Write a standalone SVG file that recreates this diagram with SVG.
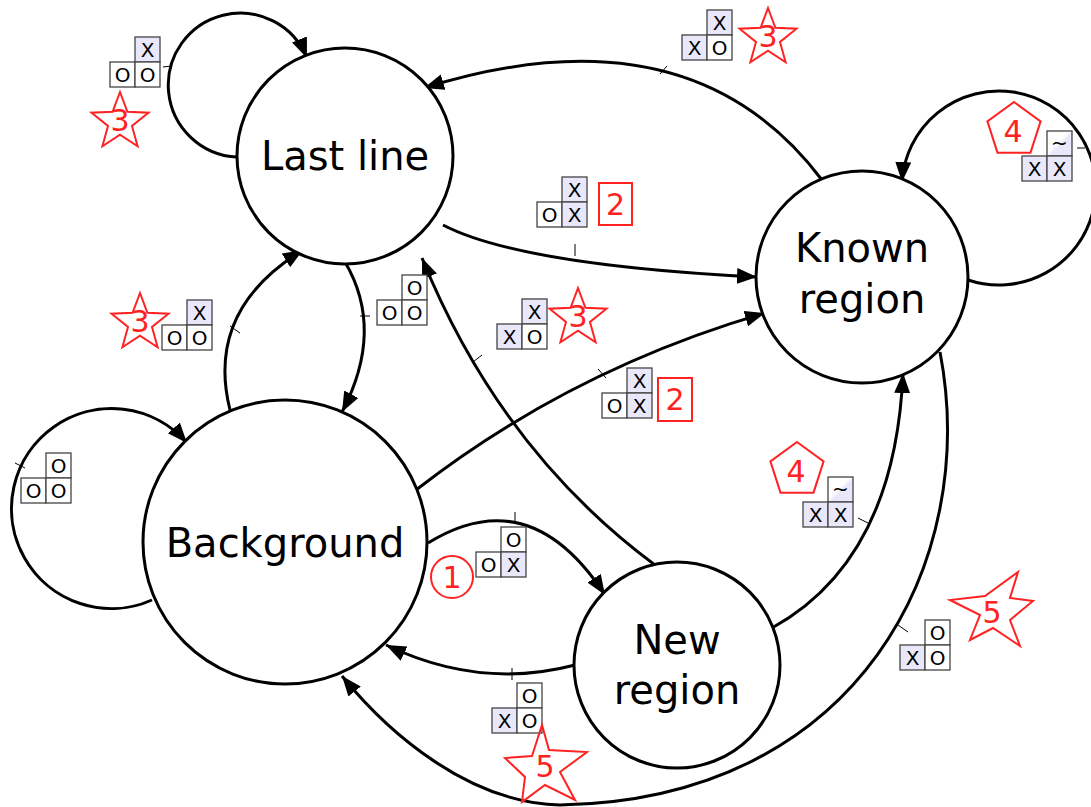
<svg xmlns="http://www.w3.org/2000/svg" xmlns:xlink="http://www.w3.org/1999/xlink" width="1091" height="807" viewBox="0 0 1091 807">
<defs>
<style>
.node{fill:#fff;stroke:#000;stroke-width:3}
.ntxt{font-family:"DejaVu Sans",sans-serif;font-size:40px;text-anchor:middle;fill:#000}
.edge{fill:none;stroke:#000;stroke-width:3}
.tick{stroke:#000;stroke-width:1;fill:none}
.cx{fill:#e8e8fa;stroke:#444;stroke-width:1.3}
.co{fill:#fff;stroke:#444;stroke-width:1.3}
.ct{fill:url(#tg);stroke:#444;stroke-width:1.3}
.ctxt{font-family:"DejaVu Sans",sans-serif;font-size:20px;text-anchor:middle;fill:#000}
.red{fill:none;stroke:#f22;stroke-width:2}
.rtxt{font-family:"DejaVu Sans",sans-serif;font-size:30px;text-anchor:middle;fill:#f22}
</style>
<linearGradient id="tg" x1="0" y1="0" x2="1" y2="1">
<stop offset="0" stop-color="#fff"/><stop offset="0.45" stop-color="#fff"/><stop offset="0.55" stop-color="#e8e8fa"/><stop offset="1" stop-color="#e8e8fa"/>
</linearGradient>
<marker id="arr" markerWidth="22" markerHeight="18" refX="20" refY="8" orient="auto" markerUnits="userSpaceOnUse"><path d="M0,0 L20,8 L0,16 z" fill="#000"/></marker>
<path id="star" d="M0,-30 L7.4,-10.2 L28.5,-9.3 L12,3.9 L17.6,24.3 L0,12.6 L-17.6,24.3 L-12,3.9 L-28.5,-9.3 L-7.4,-10.2 Z"/>
<path id="pent" d="M0,-28 L26.6,-8.65 L16.5,22.65 L-16.5,22.65 L-26.6,-8.65 Z"/>
</defs>

<g id="connectors">
<path class="edge" marker-end="url(#arr)" d="M237,157 A72 72 0 1 1 307,58"/>
<path class="edge" marker-end="url(#arr)" d="M968,280 A97 97 0 1 0 902,182"/>
<path class="edge" marker-end="url(#arr)" d="M152,600 A100 100 0 1 1 187,443"/>
<path class="edge" marker-end="url(#arr)" d="M822,180 Q690,5 424,88"/>
<path class="edge" marker-end="url(#arr)" d="M443,225 Q520,265 757,277"/>
<path class="edge" marker-end="url(#arr)" d="M345,262 Q385,330 342,412"/>
<path class="edge" marker-end="url(#arr)" d="M230,410 Q205,310 303,250"/>
<path class="edge" marker-end="url(#arr)" d="M416,490 Q570,370 765,313"/>
<path class="edge" marker-end="url(#arr)" d="M655,565 Q500,450 422,258"/>
<path class="edge" marker-end="url(#arr)" d="M428,543 Q530,480 605,595"/>
<path class="edge" marker-end="url(#arr)" d="M575,665 Q480,690 386,645"/>
<path class="edge" marker-end="url(#arr)" d="M772,628 Q895,560 903,373"/>
<path class="edge" marker-end="url(#arr)" d="M940,352 C980,560 860,800 560,805 C470,803 390,735 342,676"/>
<g class="tick">
<path d="M163,67 L171,66"/>
<path d="M660,74 L667,66"/>
<path d="M575,244 L575,256"/>
<path d="M1077,148 L1085,148"/>
<path d="M230,326 L240,333"/>
<path d="M360,316 L370,316"/>
<path d="M473,362 L482,355"/>
<path d="M598,369 L606,378"/>
<path d="M15,463 L25,468"/>
<path d="M515,512 L515,522"/>
<path d="M858,518 L868,523"/>
<path d="M512,668 L512,680"/>
<path d="M898,625 L908,632"/>
</g>
</g>

<g id="n-lastline"><circle class="node" cx="345" cy="156" r="108"/><text class="ntxt" x="345" y="170">Last line</text></g>
<g id="n-known"><circle class="node" cx="862" cy="277" r="106"/><text class="ntxt" x="862" y="262">Known</text><text class="ntxt" x="862" y="313">region</text></g>
<g id="n-background"><circle class="node" cx="285" cy="542" r="142"/><text class="ntxt" x="285" y="557">Background</text></g>
<g id="n-new"><circle class="node" cx="677" cy="665" r="103"/><text class="ntxt" x="677" y="654">New</text><text class="ntxt" x="677" y="704">region</text></g>

<g id="l1"><rect class="cx" x="135" y="37" width="25" height="25"/><rect class="co" x="110" y="62" width="25" height="25"/><rect class="co" x="135" y="62" width="25" height="25"/>
<text class="ctxt" x="147.5" y="57">X</text><text class="ctxt" x="122.5" y="82">O</text><text class="ctxt" x="147.5" y="82">O</text>
<use href="#star" x="120" y="122" class="red"/><text class="rtxt" x="120" y="131">3</text></g>

<g id="l2"><rect class="cx" x="707" y="10" width="25" height="25"/><rect class="cx" x="682" y="35" width="25" height="25"/><rect class="co" x="707" y="35" width="25" height="25"/>
<text class="ctxt" x="719.5" y="30">X</text><text class="ctxt" x="694.5" y="55">X</text><text class="ctxt" x="719.5" y="55">O</text>
<use href="#star" x="768" y="38" class="red"/><text class="rtxt" x="768" y="47">3</text></g>

<g id="l3"><rect class="cx" x="562" y="177" width="25" height="25"/><rect class="co" x="537" y="202" width="25" height="25"/><rect class="cx" x="562" y="202" width="25" height="25"/>
<text class="ctxt" x="574.5" y="197">X</text><text class="ctxt" x="549.5" y="222">O</text><text class="ctxt" x="574.5" y="222">X</text>
<rect class="red" x="599" y="183" width="33" height="42"/><text class="rtxt" x="615.5" y="215">2</text></g>

<g id="l4"><rect class="ct" x="1047" y="131" width="25" height="25"/><rect class="cx" x="1022" y="156" width="25" height="25"/><rect class="cx" x="1047" y="156" width="25" height="25"/>
<text class="ctxt" x="1059.5" y="150">~</text><text class="ctxt" x="1034.5" y="176">X</text><text class="ctxt" x="1059.5" y="176">X</text>
<use href="#pent" x="1014" y="130" class="red"/><text class="rtxt" x="1013" y="142">4</text></g>

<g id="l5"><rect class="cx" x="187" y="300" width="25" height="25"/><rect class="co" x="162" y="325" width="25" height="25"/><rect class="co" x="187" y="325" width="25" height="25"/>
<text class="ctxt" x="199.5" y="320">X</text><text class="ctxt" x="174.5" y="345">O</text><text class="ctxt" x="199.5" y="345">O</text>
<use href="#star" x="140" y="323" class="red"/><text class="rtxt" x="140" y="332">3</text></g>

<g id="l6"><rect class="co" x="402" y="275" width="25" height="25"/><rect class="co" x="377" y="300" width="25" height="25"/><rect class="co" x="402" y="300" width="25" height="25"/>
<text class="ctxt" x="414.5" y="295">O</text><text class="ctxt" x="389.5" y="320">O</text><text class="ctxt" x="414.5" y="320">O</text></g>

<g id="l7"><rect class="cx" x="522" y="299" width="25" height="25"/><rect class="cx" x="497" y="324" width="25" height="25"/><rect class="co" x="522" y="324" width="25" height="25"/>
<text class="ctxt" x="534.5" y="319">X</text><text class="ctxt" x="509.5" y="344">X</text><text class="ctxt" x="534.5" y="344">O</text>
<use href="#star" x="578" y="318" class="red"/><text class="rtxt" x="578" y="327">3</text></g>

<g id="l8"><rect class="cx" x="627" y="368" width="25" height="25"/><rect class="co" x="602" y="393" width="25" height="25"/><rect class="cx" x="627" y="393" width="25" height="25"/>
<text class="ctxt" x="639.5" y="388">X</text><text class="ctxt" x="614.5" y="413">O</text><text class="ctxt" x="639.5" y="413">X</text>
<rect class="red" x="658" y="378" width="34" height="43"/><text class="rtxt" x="675" y="410">2</text></g>

<g id="l9"><rect class="co" x="46" y="453" width="25" height="25"/><rect class="co" x="21" y="478" width="25" height="25"/><rect class="co" x="46" y="478" width="25" height="25"/>
<text class="ctxt" x="58.5" y="473">O</text><text class="ctxt" x="33.5" y="498">O</text><text class="ctxt" x="58.5" y="498">O</text></g>

<g id="l10"><rect class="co" x="501" y="527" width="25" height="25"/><rect class="co" x="476" y="552" width="25" height="25"/><rect class="cx" x="501" y="552" width="25" height="25"/>
<text class="ctxt" x="513.5" y="547">O</text><text class="ctxt" x="488.5" y="572">O</text><text class="ctxt" x="513.5" y="572">X</text>
<circle class="red" cx="452" cy="577" r="21"/><text class="rtxt" x="452" y="588">1</text></g>

<g id="l11"><rect class="ct" x="828" y="477" width="25" height="25"/><rect class="cx" x="803" y="502" width="25" height="25"/><rect class="cx" x="828" y="502" width="25" height="25"/>
<text class="ctxt" x="840.5" y="496">~</text><text class="ctxt" x="815.5" y="522">X</text><text class="ctxt" x="840.5" y="522">X</text>
<use href="#pent" x="797" y="470" class="red"/><text class="rtxt" x="796" y="482">4</text></g>

<g id="l12"><rect class="co" x="517" y="683" width="25" height="25"/><rect class="cx" x="492" y="708" width="25" height="25"/><rect class="co" x="517" y="708" width="25" height="25"/>
<text class="ctxt" x="529.5" y="703">O</text><text class="ctxt" x="504.5" y="728">X</text><text class="ctxt" x="529.5" y="728">O</text>
<path class="red" d="M542,725 L549,750 L587,752 L560,772 L575,800 L545,785 L522,802 L525,777 L505,758 L532,756 Z"/><text class="rtxt" x="545" y="777">5</text></g>

<g id="l13"><rect class="co" x="925" y="620" width="25" height="25"/><rect class="cx" x="900" y="645" width="25" height="25"/><rect class="co" x="925" y="645" width="25" height="25"/>
<text class="ctxt" x="937.5" y="640">O</text><text class="ctxt" x="912.5" y="665">X</text><text class="ctxt" x="937.5" y="665">O</text>
<path class="red" d="M1018,572 L1010,598 L1033,601 L1010,620 L1020,646 L993,628 L970,640 L980,615 L950,600 L985,596 Z"/><text class="rtxt" x="992" y="623">5</text></g>
</svg>
